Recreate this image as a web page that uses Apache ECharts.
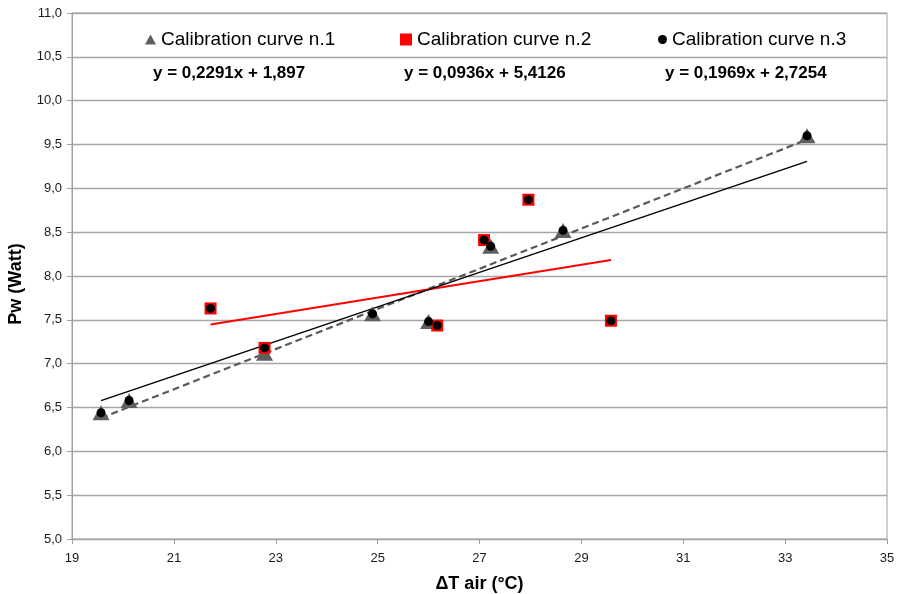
<!DOCTYPE html>
<html>
<head>
<meta charset="utf-8">
<script src="https://cdn.jsdelivr.net/npm/echarts@6/dist/echarts.min.js"></script>
<style>html,body{margin:0;padding:0;background:#fff}#chart{width:899px;height:594px}</style>
</head>
<body>
<div id="chart"></div>
<script>
// ---- data ----
const seriesNames = ['Calibration curve n.1', 'Calibration curve n.2', 'Calibration curve n.3'];
const curve1X = [19.57, 20.12, 22.78, 24.90, 26.00, 27.22, 28.64, 33.43];
const curve1Y = [6.44, 6.58, 7.12, 7.57, 7.48, 8.34, 8.52, 9.60];
const curve2X = [21.72, 22.78, 26.17, 27.09, 27.96, 29.58];
const curve2Y = [7.63, 7.18, 7.435, 8.41, 8.87, 7.49];
const curve3X = [19.57, 20.12, 21.72, 22.78, 24.90, 26.00, 26.17, 27.09, 27.22, 27.96, 28.64, 29.58, 33.43];
const curve3Y = [6.44, 6.58, 7.63, 7.18, 7.57, 7.48, 7.435, 8.41, 8.34, 8.87, 8.52, 7.49, 9.60];
const slopes = [0.2291, 0.0936, 0.1969];
const intercepts = [1.897, 5.4126, 2.7254];
const equationLabels = ['y = 0,2291x + 1,897', 'y = 0,0936x + 5,4126', 'y = 0,1969x + 2,7254'];
const xTickLabels = [19, 21, 23, 25, 27, 29, 31, 33, 35];

// ---- build ----
const FONT = '"Liberation Sans", Arial, sans-serif';
const pts = (xs, ys) => xs.map((x, i) => [x, ys[i]]);
function trend(xs, k) {
  const a = Math.min(...xs), b = Math.max(...xs);
  return [[a, slopes[k] * a + intercepts[k]], [b, slopes[k] * b + intercepts[k]]];
}
const xsAll = [curve1X, curve2X, curve3X];

const chart = echarts.init(document.getElementById('chart'), null, {renderer: 'canvas'});
chart.setOption({
  animation: false,
  backgroundColor: '#fff',
  grid: {left: 72, right: 12, top: 13, bottom: 55, show: true, borderColor: '#a0a0a0', borderWidth: 1,
         containLabel: false, outerBoundsMode: 'none'},
  xAxis: {
    type: 'value', min: 19, max: 35,
    name: 'ΔT air (°C)', nameLocation: 'middle', nameGap: 36,
    nameTextStyle: {fontFamily: FONT, fontSize: 18, fontWeight: 'bold', color: '#000'},
    axisLine: {show: true, lineStyle: {color: '#a0a0a0', width: 1}},
    axisTick: {show: true, length: 5, lineStyle: {color: '#a0a0a0'}, customValues: xTickLabels},
    axisLabel: {fontFamily: FONT, fontSize: 13, color: '#1a1a1a', margin: 13, customValues: xTickLabels},
    splitLine: {show: false}
  },
  yAxis: {
    type: 'value', min: 5, max: 11, interval: 0.5,
    name: 'Pw (Watt)', nameLocation: 'middle', nameGap: 47, nameRotate: 90,
    nameTextStyle: {fontFamily: FONT, fontSize: 18, fontWeight: 'bold', color: '#000', padding: [0, 16, 0, 0]},
    axisLine: {show: true, lineStyle: {color: '#a0a0a0', width: 1}},
    axisTick: {show: true, length: 5, lineStyle: {color: '#a0a0a0'}},
    axisLabel: {fontFamily: FONT, fontSize: 13, color: '#1a1a1a', margin: 10,
      formatter: v => v.toFixed(1).replace('.', ',')},
    splitLine: {show: true, lineStyle: {color: '#a6a6a6', width: 1.4}}
  },
  legend: [
    {data: [seriesNames[0]], left: 145, top: 30, padding: 0, itemWidth: 11, itemHeight: 10, icon: 'triangle',
     selectedMode: false, textStyle: {fontFamily: FONT, fontSize: 19, color: '#000'}},
    {data: [seriesNames[1]], left: 400, top: 30, padding: 0, itemWidth: 12, itemHeight: 12, icon: 'rect',
     selectedMode: false, textStyle: {fontFamily: FONT, fontSize: 19, color: '#000'}},
    {data: [seriesNames[2]], left: 658, top: 30, padding: 0, itemWidth: 9, itemHeight: 9, icon: 'circle',
     selectedMode: false, textStyle: {fontFamily: FONT, fontSize: 19, color: '#000'}}
  ],
  graphic: [
    {type: 'text', left: 231 - 78, top: 65, style: {text: equationLabels[0], font: 'bold 17px ' + FONT, fill: '#000'}},
    {type: 'text', left: 486 - 82, top: 65, style: {text: equationLabels[1], font: 'bold 17px ' + FONT, fill: '#000'}},
    {type: 'text', left: 747 - 82, top: 65, style: {text: equationLabels[2], font: 'bold 17px ' + FONT, fill: '#000'}}
  ],
  series: [
    {name: 'trend1', type: 'line', data: trend(xsAll[0], 0), symbol: 'none', silent: true,
     lineStyle: {color: '#595959', width: 2.2, type: [7, 4]}, z: 1},
    {name: 'trend2', type: 'line', data: trend(xsAll[1], 1), symbol: 'none', silent: true,
     lineStyle: {color: '#ff0000', width: 2}, z: 1},
    {name: 'trend3', type: 'line', data: trend(xsAll[2], 2), symbol: 'none', silent: true,
     lineStyle: {color: '#000000', width: 1.5}, z: 1},
    {name: seriesNames[0], type: 'scatter', data: pts(curve1X, curve1Y), symbol: 'triangle', symbolSize: [17, 15],
     itemStyle: {color: '#5f5f5f', opacity: 1}, z: 2},
    {name: seriesNames[1], type: 'scatter', data: pts(curve2X, curve2Y), symbol: 'rect', symbolSize: 12,
     itemStyle: {color: '#ff0000', opacity: 1}, z: 3},
    {name: seriesNames[2], type: 'scatter', data: pts(curve3X, curve3Y), symbol: 'circle', symbolSize: 9,
     itemStyle: {color: '#000000', opacity: 1}, z: 4}
  ]
});
</script>
</body>
</html>
